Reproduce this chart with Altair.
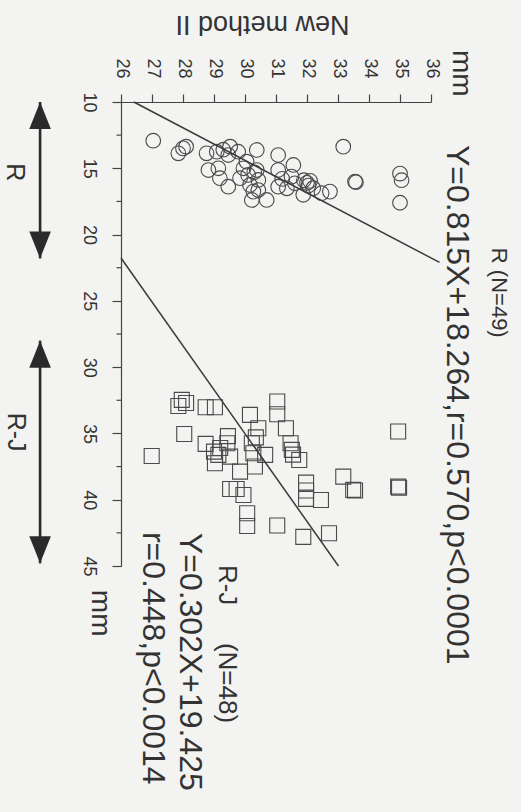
import altair as alt
import pandas as pd

FONT = "Liberation Sans"
INK = "#333333"
MARK = "#4a4a4a"
BG = "#f3f3f1"

# ---- data: R group (circles), New method II (nm) vs measurement (mm)
r_nm = [27.04, 27.85, 28.00, 28.10, 28.76, 28.82, 29.09, 29.14, 29.19, 29.46,
        29.52, 29.46, 29.78, 29.84, 29.95, 30.05, 30.10, 30.16, 30.27, 30.22,
        30.38, 30.43, 30.43, 30.70, 30.38, 31.07, 31.07, 31.07, 31.35, 31.50,
        31.56, 31.61, 31.90, 32.00, 32.10, 32.05, 31.88, 32.20, 32.47, 32.74,
        33.17, 33.55, 33.58, 35.00, 35.05, 35.00, 29.30, 30.30, 31.20]
r_mm = [12.92, 13.87, 13.50, 13.37, 13.87, 15.13, 13.75, 15.00, 15.75, 16.39,
        13.37, 14.00, 13.75, 15.75, 15.00, 14.50, 15.50, 16.26, 16.76, 17.39,
        13.62, 15.88, 16.64, 17.39, 15.13, 14.00, 15.13, 16.39, 16.51, 15.63,
        14.75, 16.13, 15.90, 16.10, 15.95, 16.30, 17.00, 16.50, 16.88, 16.76,
        13.37, 16.00, 16.05, 15.40, 15.90, 17.60, 13.60, 15.30, 15.80]

# ---- data: R-J group (squares)
rj_nm = [27.96, 27.85, 28.73, 29.03, 28.04, 26.99, 28.73, 29.00, 29.14, 29.03,
         29.43, 29.52, 29.84, 30.16, 30.43, 30.22, 30.27, 30.32, 30.65, 31.04,
         31.04, 31.32, 31.47, 31.51, 31.75, 31.97, 31.97, 32.45, 29.52, 29.73,
         29.95, 30.07, 30.07, 31.04, 31.88, 32.71, 33.17, 33.49, 33.55, 34.94,
         34.94, 34.97, 28.10, 29.20, 30.35, 31.97, 31.55, 29.45]
rj_mm = [32.47, 32.93, 33.02, 33.02, 35.04, 36.70, 35.79, 36.37, 36.62, 37.25,
         35.74, 36.75, 37.88, 33.60, 34.61, 35.74, 36.49, 37.50, 36.62, 32.59,
         33.55, 34.61, 35.74, 36.24, 37.00, 38.71, 39.94, 40.02, 39.19, 39.19,
         39.64, 41.02, 41.98, 41.95, 42.80, 42.53, 38.26, 39.26, 39.31, 34.86,
         39.01, 39.10, 32.70, 36.10, 35.30, 39.30, 36.60, 35.20]

# ---- axes
x_ticks = list(range(26, 37))
y_ticks = [10, 15, 20, 25, 30, 35, 40, 45]
y_minor = [12.5, 17.5, 22.5, 27.5, 32.5, 37.5, 42.5]

# ---- regression lines  Y = a*X + b  (X = mm, Y = New method II)
line_a = [0.815, 0.302]
line_b = [18.264, 19.425]
line_mm_start = [10.0, 21.77]
line_mm_end = [22.1, 45.0]

# ---- range arrows (mm)
arrow_start = [10.0, 28.0]
arrow_end = [21.8, 44.8]
arrow_labels = ["R", "R-J"]
arrow_label_mm = [15.3, 34.9]

# ---- annotation texts
ann_text = ["Y=0.815X+18.264,r=0.570,p<0.0001", "R (N=49)", "R-J", "(N=48)",
            "Y=0.302X+19.425", "r=0.448,p<0.0014"]
ann_nm = [36.84, 38.20, 29.42, 29.42, 28.23, 27.03]
ann_mm = [13.24, 21.0, 44.92, 50.8, 42.5, 42.43]
ann_size = [32, 22, 26, 26, 32, 32]

unit_text = ["mm", "mm"]
unit_nm = [36.71, 25.06]
unit_mm = [6.08, 46.8]

# ---------------- build tables
df_r = pd.DataFrame({"nm": r_nm, "mm": r_mm})
df_rj = pd.DataFrame({"nm": rj_nm, "mm": rj_mm})
df_lines = pd.DataFrame({
    "mm1": line_mm_start, "mm2": line_mm_end,
    "nm1": [a * m + b for a, b, m in zip(line_a, line_b, line_mm_start)],
    "nm2": [a * m + b for a, b, m in zip(line_a, line_b, line_mm_end)],
})
df_minor = pd.DataFrame({"mm": y_minor, "x0": [25.855] * len(y_minor), "x1": [26] * len(y_minor)})
arrow_nm = 23.39
df_arrow = pd.DataFrame({"s": arrow_start, "e": arrow_end, "nm": [arrow_nm] * 2})
df_heads = pd.DataFrame({
    "mm": arrow_start + arrow_end,
    "nm": [arrow_nm] * 4,
    "shape": ["M0,0L0.8,2L-0.8,2Z"] * 2 + ["M0,0L0.8,-2L-0.8,-2Z"] * 2,
})
df_alab = pd.DataFrame({"t": arrow_labels, "mm": arrow_label_mm, "nm": [22.58, 22.61]})
df_ann = pd.DataFrame({"t": ann_text, "nm": ann_nm, "mm": ann_mm, "fs": ann_size})
df_unit = pd.DataFrame({"t": unit_text, "nm": unit_nm, "mm": unit_mm})

xscale = alt.Scale(domain=[26, 36], nice=False, zero=False)
yscale = alt.Scale(domain=[10, 45], nice=False, zero=False, reverse=True)

xaxis = alt.Axis(orient="top", values=x_ticks, title="New method II",
                 titleAngle=180, titleFontSize=27, titleFont=FONT,
                 titleFontWeight="normal", titleColor=INK, titleX=141, titleY=-79,
                 titleAlign="center", titleBaseline="middle",
                 labelAngle=90, labelAlign="right", labelBaseline="middle",
                 labelPadding=16, tickSize=8, labelFontSize=18, labelFont=FONT,
                 labelColor=INK, labelFlush=False, labelOverlap=False,
                 labelSeparation=0, grid=False, format="d",
                 domainColor="#444444", tickColor="#444444", domainWidth=1.2, tickWidth=1.2)
yaxis = alt.Axis(orient="left", values=y_ticks, title=None,
                 labelAngle=90, labelAlign="center", labelBaseline="top",
                 labelPadding=15, tickSize=9, labelFontSize=18, labelFont=FONT,
                 labelColor=INK, labelFlush=False, labelOverlap=False, grid=False,
                 format="d",
                 domainColor="#444444", tickColor="#444444", domainWidth=1.2, tickWidth=1.2)


def X(f):
    return alt.X(f, type="quantitative", scale=xscale, axis=xaxis)


def Y(f):
    return alt.Y(f, type="quantitative", scale=yscale, axis=yaxis)


circles = alt.Chart(df_r).mark_point(shape="circle", filled=False, size=215,
                                     strokeWidth=1.1, color=MARK, opacity=1).encode(x=X("nm"), y=Y("mm"))
squares = alt.Chart(df_rj).mark_point(shape="square", filled=False, size=225,
                                      strokeWidth=1.1, color=MARK, opacity=1).encode(
    x=X("nm"), y=Y("mm"))

lines = alt.Chart(df_lines).mark_rule(color="#3a3a3a", strokeWidth=1.5).encode(
    x=X("nm1"), x2="nm2", y=Y("mm1"), y2="mm2")

minor = alt.Chart(df_minor).mark_rule(color="#444444", strokeWidth=1.2, clip=False).encode(
    x=X("x0"), x2="x1", y=Y("mm"))

shafts = alt.Chart(df_arrow).mark_rule(color="#2a2a2a", strokeWidth=2.6, clip=False).encode(
    x=X("nm"), y=Y("s"), y2="e")
heads = alt.Chart(df_heads).mark_point(filled=True, size=729, color="#2a2a2a",
                                       opacity=1, clip=False).encode(
    x=X("nm"), y=Y("mm"), shape=alt.Shape("shape:N", scale=None))
alabels = alt.Chart(df_alab).mark_text(angle=90, align="center", baseline="middle",
                                       font=FONT, fontSize=25, color=INK).encode(
    x=X("nm"), y=Y("mm"), text="t:N")

ann = alt.Chart(df_ann).mark_text(angle=90, align="left", baseline="middle",
                                  font=FONT, color=INK).encode(
    x=X("nm"), y=Y("mm"), text="t:N", size=alt.Size("fs:Q", scale=None))
units = alt.Chart(df_unit).mark_text(angle=90, align="left", baseline="alphabetic",
                                     font=FONT, fontSize=28, color=INK).encode(
    x=X("nm"), y=Y("mm"), text="t:N")

chart = alt.layer(circles, squares, lines, minor, shafts, heads, alabels, ann, units).properties(
    width=310, height=464,
    padding={"left": 121, "top": 102, "right": 90, "bottom": 246},
    autosize=alt.AutoSizeParams(type="none"),
    background=BG,
).configure_view(stroke=None)

chart.save("out.html", embed_options={"renderer": "svg", "actions": False})
